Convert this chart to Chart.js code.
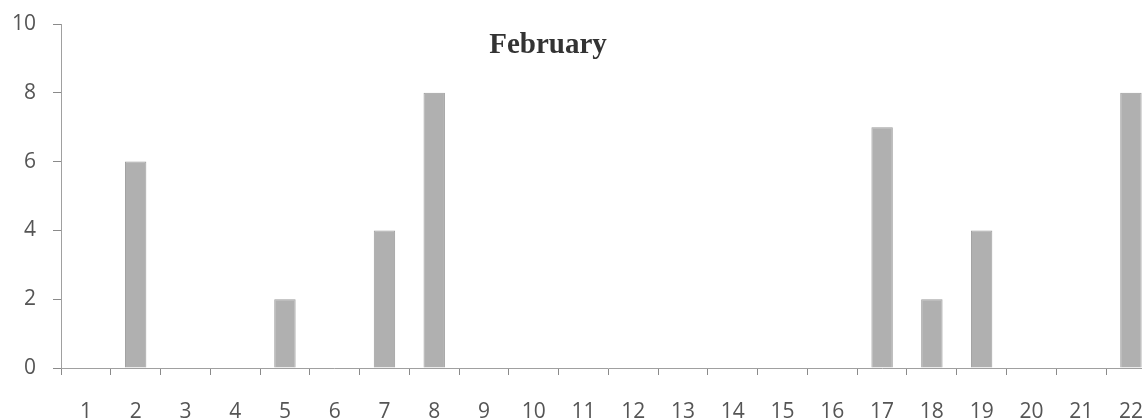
<!DOCTYPE html>
<html>
<head>
<meta charset="utf-8">
<script src="https://cdn.jsdelivr.net/npm/chart.js@4"></script>
<style>
  html, body { margin: 0; padding: 0; background: #fff; overflow: hidden; }
  #wrap { width: 1167px; height: 420px; }
</style>
</head>
<body>
<div id="wrap"><canvas id="febChart" width="1167" height="420"></canvas></div>
<script>
// Days of February and counts per day
const days = ['1', '2', '3', '4', '5', '6', '7', '8', '9', '10', '11',
              '12', '13', '14', '15', '16', '17', '18', '19', '20', '21', '22'];
const counts = [0, 6, 0, 0, 2, 0, 4, 8, 0, 0, 0,
                0, 0, 0, 0, 0, 7, 2, 4, 0, 0, 8];
const yTicks = [0, 2, 4, 6, 8, 10];
const chartTitle = 'February';

// title sits inside the plot, a bit left of centre
const titleInside = {
    id: 'titleInside',
    afterDraw(chart) {
        const ctx = chart.ctx;
        ctx.save();
        ctx.font = 'bold 29px "Liberation Serif"';
        ctx.fillStyle = '#333';
        ctx.textAlign = 'center';
        ctx.textBaseline = 'middle';
        ctx.fillText(chartTitle, 548, 46);
        ctx.restore();
    }
};

const tickFont = { family: 'Open Sans', size: 21 };

const ctx = document.getElementById('febChart').getContext('2d');
const febChart = new Chart(ctx, {
    type: 'bar',
    data: {
        labels: days,
        datasets: [{
            label: chartTitle,
            data: counts,
            backgroundColor: '#b0b0b0',
            borderColor: '#9c9c9c',
            borderWidth: 1,
            categoryPercentage: 1,
            barPercentage: 0.43
        }]
    },
    options: {
        responsive: false,
        animation: false,
        devicePixelRatio: 1,
        layout: { padding: { top: 24, right: 3, left: 0, bottom: 0 } },
        plugins: {
            legend: { display: false },
            tooltip: { enabled: false }
        },
        scales: {
            x: {
                grid: { drawOnChartArea: false, drawTicks: true, tickLength: 7, color: '#8a8a8a' },
                border: { display: true, color: '#a0a0a0', dash: [2, 1] },
                ticks: { color: '#555', font: tickFont, padding: 24, maxRotation: 0, autoSkip: false },
                afterFit(scale) { scale.height = 52; }
            },
            y: {
                min: 0,
                max: 10,
                afterBuildTicks(scale) { scale.ticks = yTicks.map(v => ({ value: v })); },
                grid: { drawOnChartArea: false, drawTicks: true, tickLength: 8, color: '#8a8a8a' },
                border: { display: true, color: '#a0a0a0', dash: [2, 1] },
                ticks: { color: '#555', font: tickFont, padding: 17 },
                afterFit(scale) {
                    scale.width = 61;
                    scale.paddingTop = 10;
                    scale.paddingBottom = 10;
                }
            }
        }
    },
    plugins: [titleInside]
});
</script>
</body>
</html>
